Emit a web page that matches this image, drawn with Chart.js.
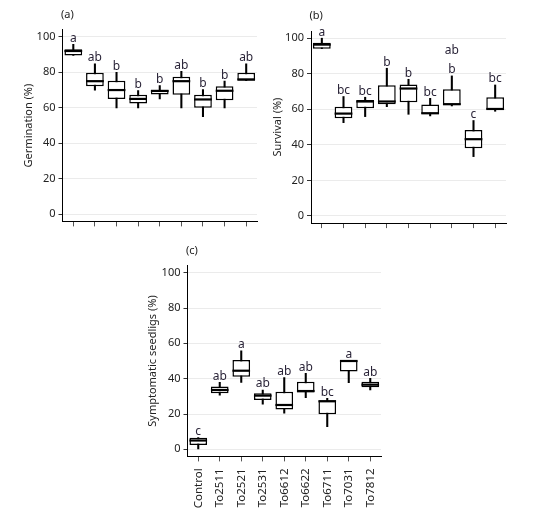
<!DOCTYPE html>
<html>
<head>
<meta charset="utf-8">
<script src="https://cdn.jsdelivr.net/npm/chart.js@4.4.1/dist/chart.umd.min.js"></script>
<style>
  html, body { margin: 0; padding: 0; background: #fff; }
  body { width: 541px; height: 522px; position: relative; overflow: hidden; }
  canvas { position: absolute; }
</style>
</head>
<body>
<canvas id="chartA" width="270" height="240" style="left:0;top:0"></canvas>
<canvas id="chartB" width="286" height="240" style="left:255px;top:0"></canvas>
<canvas id="chartC" width="280" height="277" style="left:130px;top:245px"></canvas>
<script>
const FONT = "'Noto Sans', sans-serif";

const treatments = ["Control","To2511","To2521","To2531","To6612","To6622","To6711","To7031","To7812"];
const yTicks = [0, 20, 40, 60, 80, 100];

// (a) germination %
const germMin = [89.5, 70, 60, 60, 65, 60, 55, 60, 75.3];
const germQ1  = [89.5, 72.2, 65, 62.4, 67.5, 67.3, 60, 64.3, 75.3];
const germMed = [92, 75, 70, 65, 69.5, 75, 64.7, 69.6, 76];
const germQ3  = [93, 79.7, 75.2, 67.3, 70.2, 77.5, 67.3, 72.2, 79.7];
const germMax = [95.7, 84.8, 80, 69.7, 72.5, 80.6, 70.3, 75, 84.8];
const germLetters = ["a","ab","b","b","b","ab","b","b","ab"];

// (b) survival %
const survMin = [94.1, 52.5, 55.9, 61.5, 57.2, 56.3, 61.9, 33.4, 58.9];
const survQ1  = [94.1, 55, 60.6, 62.9, 64, 57.2, 62.3, 38.1, 59.7];
const survMed = [96.4, 57.6, 64.4, 64.4, 71.7, 57.8, 62.9, 43.2, 60.2];
const survQ3  = [97.4, 61.5, 65.3, 73.5, 73.9, 62.7, 71.3, 48.4, 66.8];
const survMax = [100, 67.2, 66.8, 83.1, 76.9, 66.2, 78.8, 53.7, 73.7];
const survLetters = ["a","bc","bc","b","b","bc","b","c","bc"];
const survExtra = [{ index: 6, text: "ab", value: 91 }];

// (c) symptomatic seedlings %
const sympMin = [0, 30.6, 37.9, 25.5, 20.4, 29.2, 12.8, 37.7, 33.6];
const sympQ1  = [2.4, 31.7, 41.1, 27.9, 22.6, 32.1, 19.8, 44, 35.1];
const sympMed = [5, 33.6, 44.5, 30.4, 25.1, 33, 27.2, 50, 36.6];
const sympQ3  = [6.6, 35.5, 50.6, 31.7, 32.6, 38.3, 27.8, 50.4, 38.3];
const sympMax = [6.6, 37.9, 55.7, 33.6, 40.6, 43, 28.9, 50.4, 40.2];
const sympLetters = ["c","ab","a","ab","ab","ab","bc","a","ab"];

// medians, significance letters and panel tag
const boxExtras = {
  id: "boxExtras",
  afterDatasetsDraw(chart, args, o) {
    const { ctx, chartArea } = chart;
    const x = chart.scales.x, y = chart.scales.y;
    const boxes = chart.getDatasetMeta(0).data;
    ctx.save();
    ctx.strokeStyle = "#000";
    ctx.lineWidth = 2.2;
    o.median.forEach((m, i) => {
      const el = boxes[i];
      const py = y.getPixelForValue(m);
      ctx.beginPath();
      ctx.moveTo(el.x - el.width / 2, py);
      ctx.lineTo(el.x + el.width / 2, py);
      ctx.stroke();
    });
    ctx.fillStyle = "#2a2438";
    ctx.font = "12px " + FONT;
    ctx.textAlign = "center";
    ctx.textBaseline = "alphabetic";
    o.letters.forEach((t, i) => {
      ctx.fillText(t, x.getPixelForValue(i), y.getPixelForValue(o.top[i]) - 2.5);
    });
    (o.extra || []).forEach(e => {
      ctx.fillText(e.text, x.getPixelForValue(e.index), y.getPixelForValue(e.value));
    });
    ctx.fillStyle = "#222";
    ctx.font = "11px " + FONT;
    ctx.textAlign = "left";
    ctx.fillText(o.tag, chartArea.left - 1.5, chartArea.top - 11.8);
    ctx.restore();
  }
};

function drawPanel(id, g, mins, q1, med, q3, maxs, letters, extra) {
  new Chart(document.getElementById(id), {
    type: "bar",
    data: {
      labels: treatments,
      datasets: [
        {
          data: q1.map((v, i) => [v, q3[i]]),
          backgroundColor: "#fff",
          borderColor: "#000",
          borderWidth: 1.5,
          borderSkipped: false,
          barPercentage: 0.82,
          categoryPercentage: 1,
          grouped: false,
          order: 0
        },
        {
          data: mins.map((v, i) => [v, maxs[i]]),
          backgroundColor: "#000",
          borderWidth: 0,
          barThickness: 1.4,
          grouped: false,
          order: 1
        }
      ]
    },
    options: {
      responsive: false,
      animation: false,
      layout: { padding: g.pad },
      plugins: {
        legend: { display: false },
        tooltip: { enabled: false },
        boxExtras: { median: med, letters: letters, top: maxs, extra: extra, tag: g.tag }
      },
      scales: {
        x: {
          offset: true,
          afterFit: s => { s.height = g.xHeight; },
          grid: { drawOnChartArea: false, drawTicks: true, tickLength: 5, tickColor: "#555", offset: false },
          border: { color: "#000", width: 1 },
          ticks: {
            display: g.showLabels,
            color: "#222",
            font: { family: FONT, size: 11.5 },
            minRotation: 90,
            maxRotation: 90,
            autoSkip: false,
            padding: 7
          }
        },
        y: {
          min: -4,
          max: 104,
          afterBuildTicks: s => { s.ticks = yTicks.map(v => ({ value: v })); },
          afterFit: s => { s.width = g.yWidth; },
          ticks: { color: "#222", font: { family: FONT, size: 11 }, padding: 3 },
          grid: { color: "#ebebeb", lineWidth: 1, tickColor: "#333", tickLength: 4 },
          border: { color: "#000", width: 1 },
          title: {
            display: true,
            text: g.yTitle,
            color: "#222",
            font: { family: FONT, size: 11 },
            padding: { top: 4, bottom: 4 }
          }
        }
      }
    },
    plugins: [boxExtras]
  });
}

drawPanel("chartA",
  { tag: "(a)", yTitle: "Germination (%)", showLabels: false, xHeight: 10, yWidth: 44.1,
    pad: { left: 18.4, right: 13, top: 29.7, bottom: 8.6 } },
  germMin, germQ1, germMed, germQ3, germMax, germLetters, []);

drawPanel("chartB",
  { tag: "(b)", yTitle: "Survival (%)", showLabels: false, xHeight: 10, yWidth: 43.3,
    pad: { left: 12.7, right: 35, top: 31.1, bottom: 6.9 } },
  survMin, survQ1, survMed, survQ3, survMax, survLetters, survExtra);

drawPanel("chartC",
  { tag: "(c)", yTitle: "Symptomatic seedligs (%)", showLabels: true, xHeight: 60, yWidth: 44.8,
    pad: { left: 12.7, right: 29, top: 20.6, bottom: 5.6 } },
  sympMin, sympQ1, sympMed, sympQ3, sympMax, sympLetters, []);
</script>
</body>
</html>
